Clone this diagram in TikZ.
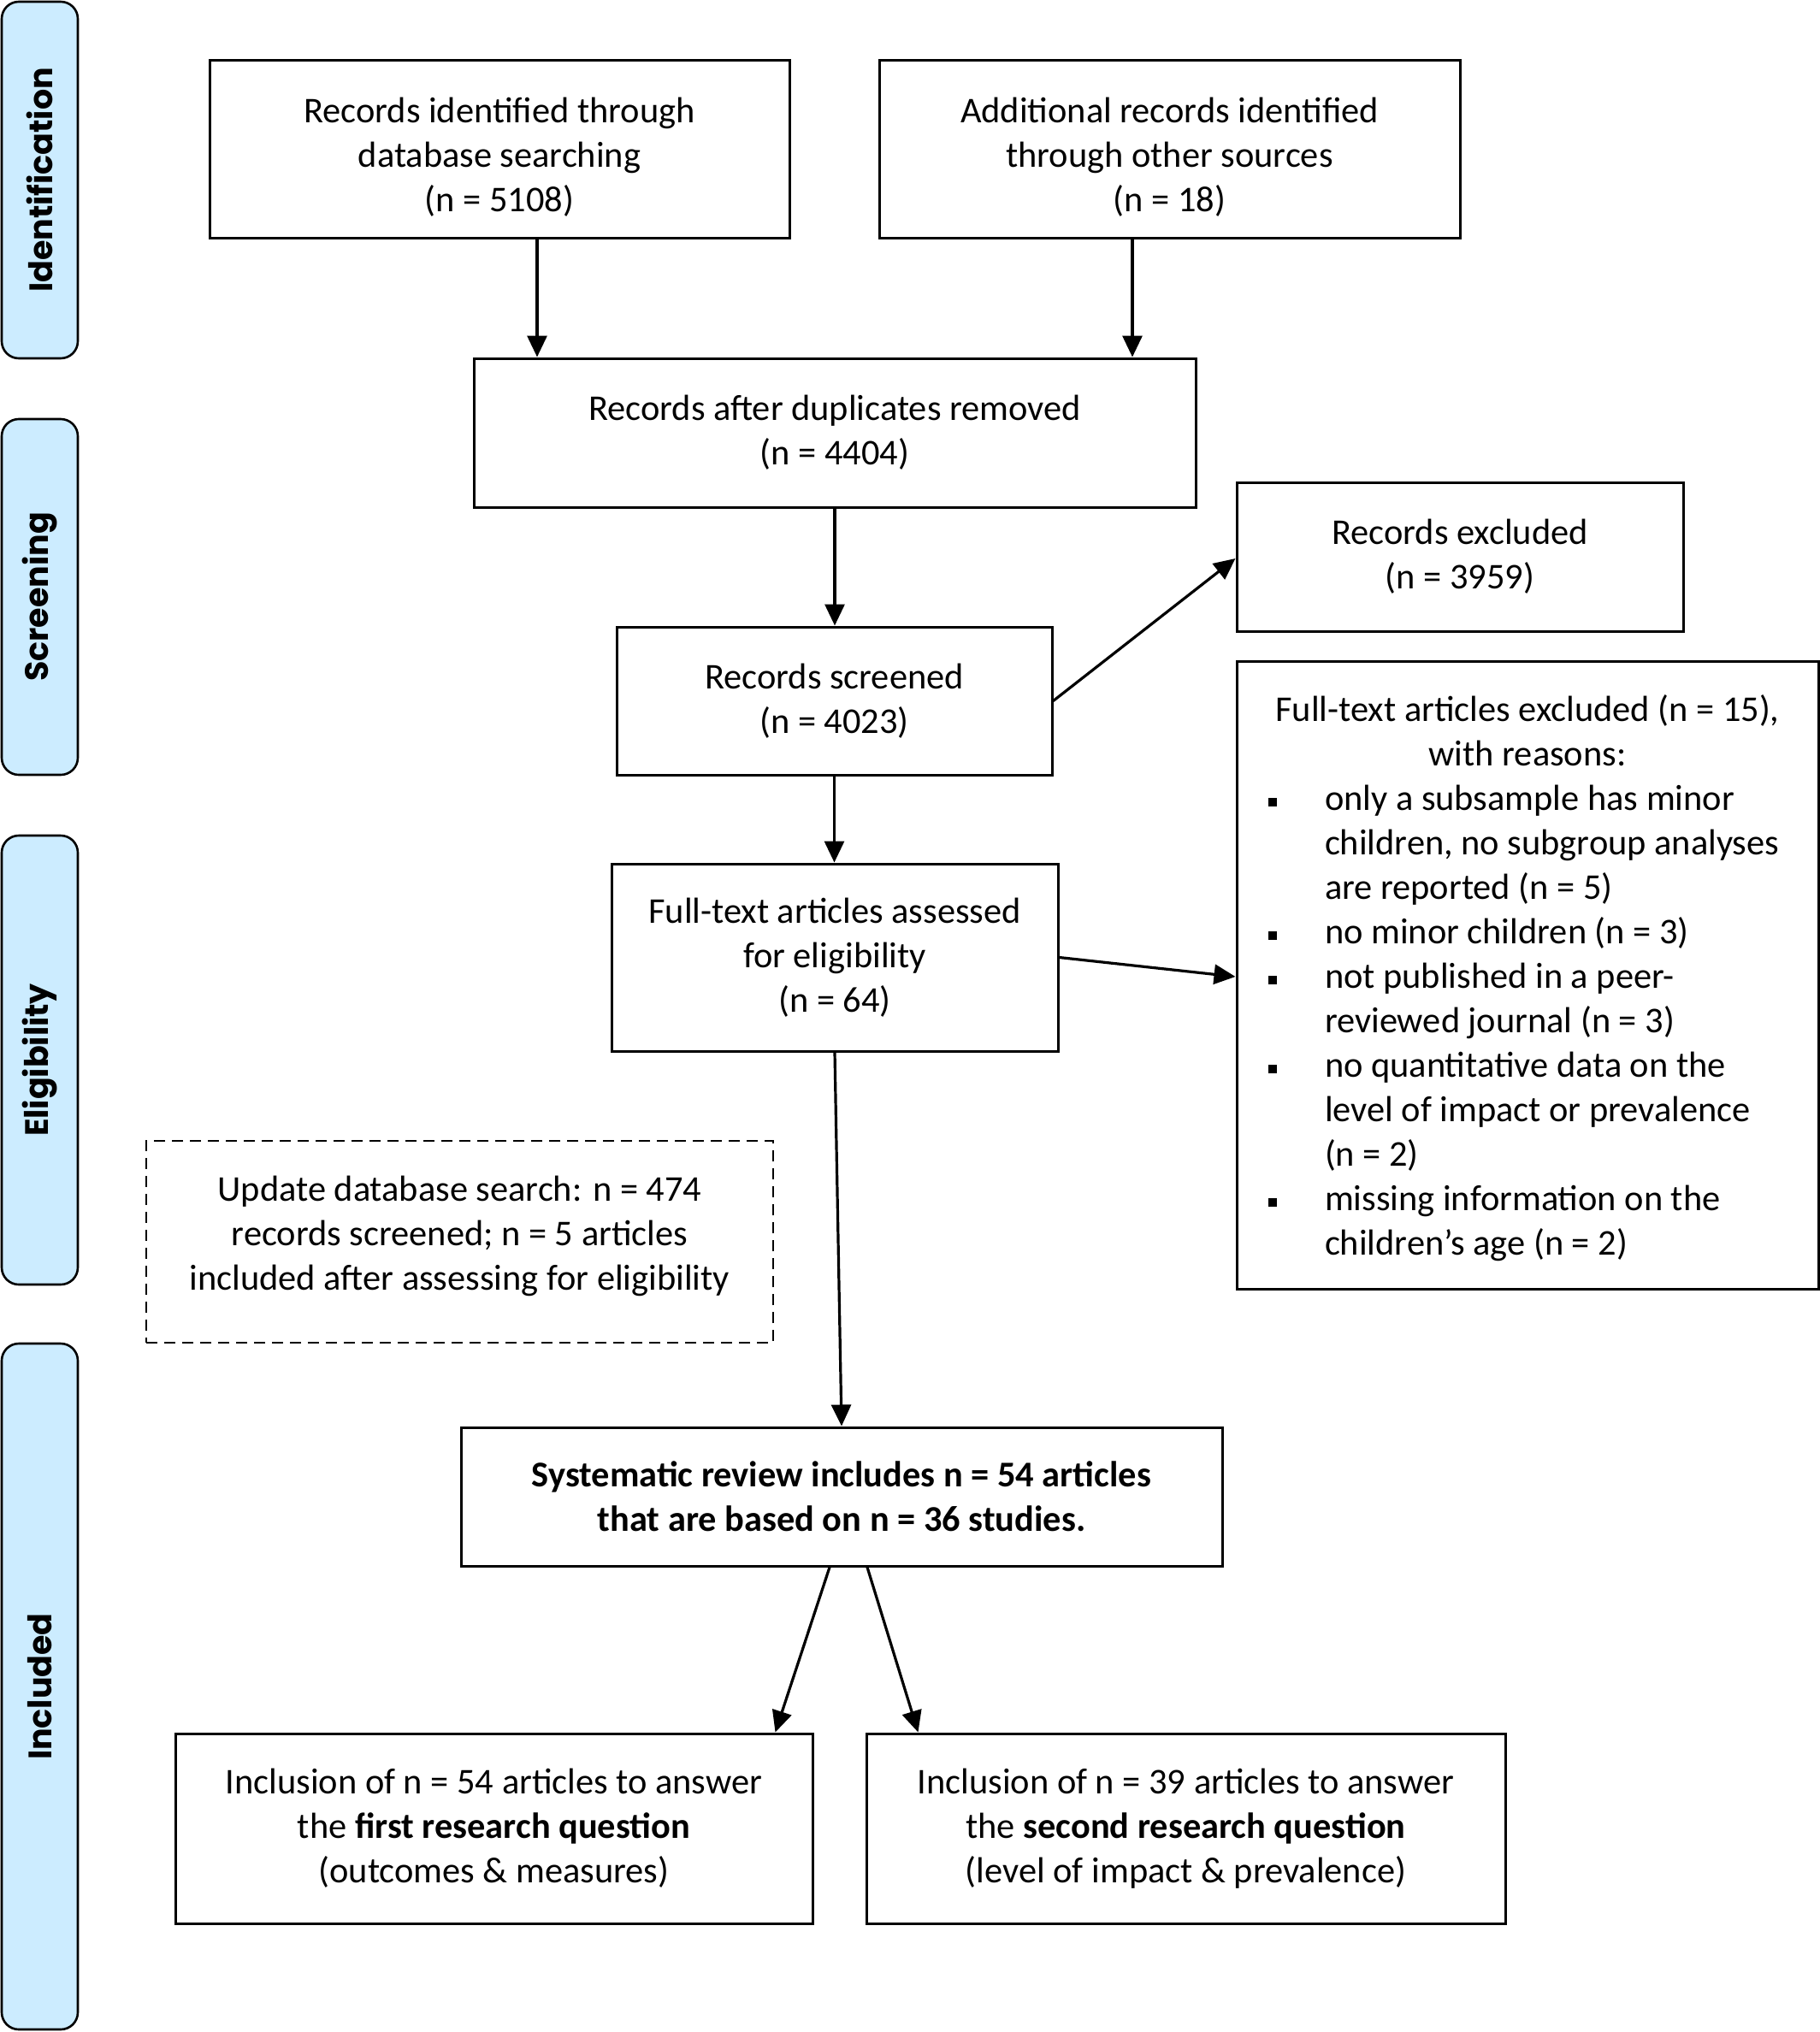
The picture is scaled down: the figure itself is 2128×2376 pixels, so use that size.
\documentclass[tikz,border=0pt]{standalone}
\usepackage{fontspec}
\setmainfont{Carlito}
\newfontfamily\sidefont{Poppins}
\usetikzlibrary{arrows.meta,calc}
\definecolor{sidebl}{RGB}{204,236,255}
\newcommand\bsq{\makebox[33pt][l]{\rule[2.4pt]{5pt}{5pt}}}
\newcommand\ind{\hspace*{33pt}}
\begin{document}
\begin{tikzpicture}[x=0.5pt,y=-0.5pt,
  maintext/.style={font=\fontsize{21.2}{26}\selectfont},
  box/.style={draw,line width=1.5pt,rectangle,inner sep=0pt,align=center,maintext},
  txt/.style={inner sep=0pt,align=center,maintext},
  dbox/.style={box,dash pattern=on 6.5pt off 4pt,line width=1.1pt},
  side/.style={draw,line width=1.3pt,fill=sidebl,rounded corners=10pt,minimum width=44.5pt,inner sep=0pt},
  sidelab/.style={rotate=90,inner sep=0pt,font=\sidefont\bfseries\fontsize{19}{23}\selectfont},
  arr/.style={line width=1.6pt,-{Triangle[length=12.5pt,width=11.5pt]}}]
\fill[white] (0,0) rectangle (2128,2376);
\useasboundingbox (0,0) rectangle (2128,2376);

% side bars
\node[side,minimum height=208.5pt] (sid) at (46.5,210.5) {};
\node[sidelab] (lid) at (sid.center) {Identification};
\node[side,minimum height=208pt] (sscr) at (46.5,698) {};
\node[sidelab] (lscr) at (sscr.center) {Screening};
\node[side,minimum height=262.5pt] (sel) at (46.5,1239.5) {};
\node[sidelab] (lel) at (sel.center) {Eligibility};
\node[side,minimum height=401pt] (sinc) at (46.5,1972) {};
\node[sidelab] (linc) at (sinc.center) {Included};

% boxes
\node[box,minimum width=339pt,minimum height=104pt] (db) at (584,175) {};
\node[txt] (dbt) at ([yshift=-4.5pt]db.center)
  {Records identified through\\database searching\\(n = 5108)};
\node[box,minimum width=339.5pt,minimum height=104pt] (oth) at (1367.5,175) {};
\node[txt] (otht) at ([yshift=-4.5pt]oth.center)
  {Additional records identified\\through other sources\\(n = 18)};
\node[box,minimum width=422pt,minimum height=87pt] (dup) at (976,506)
  {Records after duplicates removed\\(n = 4404)};
\node[box,minimum width=261pt,minimum height=87pt] (excl) at (1707,651)
  {Records excluded\\(n = 3959)};
\node[box,minimum width=254.5pt,minimum height=86.5pt] (scr) at (975.5,819.5)
  {Records screened\\(n = 4023)};
\node[box,minimum width=261pt,minimum height=109.5pt] (ass) at (976,1119.5)
  {Full-text articles assessed\\for eligibility\\(n = 64)};
\node[box,minimum width=340pt,minimum height=367pt] (ftex) at (1786,1140) {};
\node[txt,align=left] (ftext) at ([yshift=-2pt]ftex.center)
  {\makebox[303pt][c]{Full-text articles excluded (n = 15),}\\
   \makebox[303pt][c]{with reasons:}\\
   \bsq only a subsample has minor\\
   \ind children, no subgroup analyses\\
   \ind are reported (n = 5)\\
   \bsq no minor children (n = 3)\\
   \bsq not published in a peer-\\
   \ind reviewed journal (n = 3)\\
   \bsq no quantitative data on the\\
   \ind level of impact or prevalence\\
   \ind (n = 2)\\
   \bsq missing information on the\\
   \ind children’s age (n = 2)};
\node[dbox,minimum width=366.5pt,minimum height=118pt] (upd) at (537.5,1452) {};
\node[txt] (updt) at ([yshift=3.5pt]upd.center)
  {Update database search: n = 474\\records screened; n = 5 articles\\included after assessing for eligibility};
\node[box,font=\fontsize{21.2}{26}\selectfont\bfseries,minimum width=445pt,minimum height=81pt] (sr) at (984,1750)
  {Systematic review includes n = 54 articles\\that are based on n = 36 studies.};
\node[box,minimum width=372.5pt,minimum height=111pt] (inc1) at (577.5,2138)
  {Inclusion of n = 54 articles to answer\\the \textbf{first research question}\\(outcomes \& measures)};
\node[box,minimum width=373.5pt,minimum height=111pt] (inc2) at (1386.5,2138)
  {Inclusion of n = 39 articles to answer\\the \textbf{second research question}\\(level of impact \& prevalence)};

% arrows
\draw[arr] ([xshift=22pt]db.south) -- ([xshift=22pt]db.south |- dup.north);
\draw[arr] ([xshift=-21.75pt]oth.south) -- ([xshift=-21.75pt]oth.south |- dup.north);
\draw[arr] (dup.south) -- (dup.south |- scr.north);
\draw[arr] (scr.south) -- (scr.south |- ass.north);
\draw[arr] (scr.east) -- ([yshift=-1pt]excl.west);
\draw[arr] (ass.east) -- ([yshift=-1pt]ftex.west);
\draw[arr] (ass.south) -- (sr.north);
\draw[arr] ([xshift=-7pt]sr.south) -- ([xshift=-22.5pt]inc1.north east);
\draw[arr] ([xshift=15pt]sr.south) -- ([xshift=31pt]inc2.north west);
\end{tikzpicture}
\end{document}
